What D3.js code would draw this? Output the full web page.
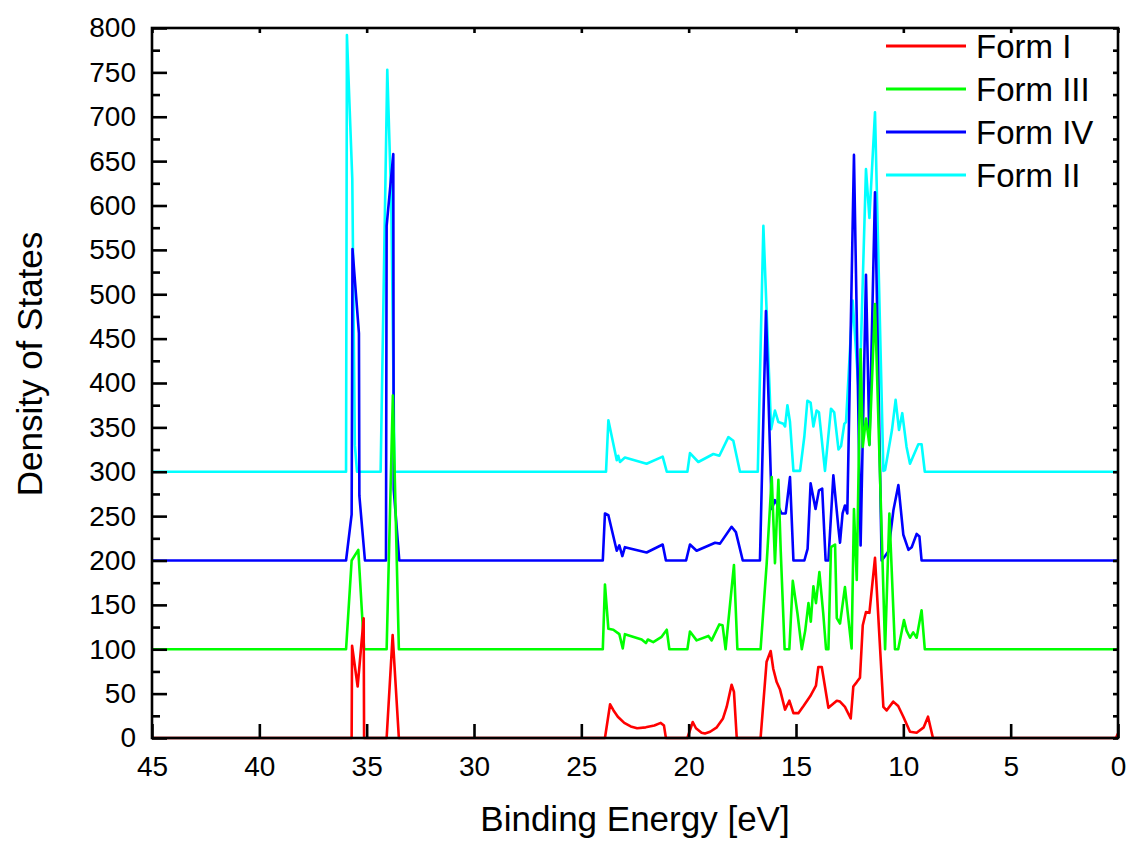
<!DOCTYPE html>
<html>
<head>
<meta charset="utf-8">
<script src="https://cdn.jsdelivr.net/npm/d3@7"></script>
<style>
  html, body { margin: 0; padding: 0; background: #fff; }
  svg { display: block; }
  text { font-family: "Liberation Sans", Arial, sans-serif; fill: #000; }
</style>
</head>
<body>
<svg id="chart" width="1134" height="844"></svg>
<script>
// ---- data (binding energy [eV], density of states as plotted) ----
const seriesNames = ["Form I", "Form III", "Form IV", "Form II"];
const seriesColors = ["#ff0000", "#00ff00", "#0000ff", "#00ffff"];

const formI = [
  [45,0],[35.70,0],[35.68,104],[35.42,58],[35.14,135],[35.12,0],
  [34.07,0],[33.79,116],[33.50,0],
  [23.90,0],[23.66,38],[23.50,31],[23.30,24],[23.00,17],[22.70,13],[22.40,11],[22.00,12],[21.60,14],[21.30,17],[21.15,14],[21.06,0],
  [20.06,0],[19.81,18],[19.66,11],[19.40,6],[19.24,5],[19.00,7],[18.69,12],[18.40,22],[18.23,35],[18.00,60],[17.89,52],[17.76,0],
  [16.65,0],[16.37,86],[16.18,98],[16.06,78],[15.90,63],[15.75,55],[15.51,32],[15.31,42],[15.12,28],
  [14.89,28],[14.65,36],[14.34,47],[14.07,59],[13.96,80],[13.80,80],[13.49,34],[13.10,42],[12.95,41],
  [12.72,35],[12.45,22],[12.33,58],[12.17,63],[12.02,68],[11.89,127],[11.74,142],[11.58,141],[11.32,203],
  [10.93,35],[10.78,31],[10.47,41],[10.24,36],[10.00,24],[9.69,7],[9.38,6],[9.05,12],[8.85,24],[8.62,0],
  [0.10,0],[0,5]
];

const formIII = [
  [45,100],[35.96,100],[35.70,200],[35.39,212],[35.12,100],
  [34.07,100],[33.78,386],[33.50,100],
  [24.00,100],[23.90,173],[23.74,123],[23.51,122],[23.23,117],[23.07,101],[22.97,117],[22.19,111],
  [21.99,107],[21.90,111],[21.65,108],[21.26,114],[21.02,122],[20.90,100],
  [20.06,100],[19.94,120],[19.63,110],[19.08,115],[18.93,110],[18.57,128],[18.42,127],[18.28,100],[17.89,195],[17.73,100],
  [16.65,100],[16.37,195],[16.13,294],[15.98,197],[15.82,291],[15.71,210],[15.53,100],[15.31,100],
  [15.15,177],[14.93,140],[14.73,100],[14.57,121],[14.42,152],[14.31,131],[14.19,171],[14.07,152],
  [13.91,187],[13.73,140],[13.60,100],[13.49,100],[13.37,215],[13.18,218],[13.10,135],[12.95,129],
  [12.72,170],[12.41,101],[12.30,258],[12.17,178],[11.99,438],[11.89,328],[11.74,360],[11.58,330],
  [11.32,489],[10.85,100],[10.65,253],[10.39,100],[10.24,100],[9.97,133],[9.85,121],[9.69,113],
  [9.54,119],[9.38,113],[9.15,144],[9.00,100],
  [0,100]
];

const formIV = [
  [45,200],[35.96,200],[35.70,252],[35.66,551],[35.36,456],[35.34,273],[35.08,200],
  [34.10,200],[34.07,577],[33.76,658],[33.74,280],[33.48,200],
  [24.00,200],[23.90,253],[23.74,251],[23.35,211],[23.23,217],[23.09,205],[22.97,215],[21.96,209],[21.21,218],[21.06,200],
  [20.12,200],[19.94,218],[19.63,211],[18.77,220],[18.54,219],[18.00,238],[17.80,232],[17.48,200],
  [16.68,200],[16.40,481],[16.13,258],[15.98,268],[15.85,262],[15.67,253],[15.48,253],[15.28,294],[15.12,200],
  [14.61,200],[14.46,213],[14.32,287],[14.09,258],[13.93,279],[13.78,281],[13.62,200],[13.49,200],
  [13.26,296],[13.03,238],[12.95,220],[12.83,253],[12.72,262],[12.61,253],[12.30,657],[11.99,217],
  [11.74,522],[11.58,331],[11.32,615],[11.01,200],[10.85,205],[10.70,210],[10.46,257],[10.23,285],
  [10.00,229],[9.76,212],[9.61,215],[9.38,230],[9.25,227],[9.15,200],
  [0,200]
];

const formII = [
  [45,300],[35.96,300],[35.92,792],[35.67,630],[35.55,330],[35.45,300],
  [34.35,300],[34.04,753],[33.85,600],[33.70,300],
  [23.85,300],[23.74,358],[23.35,313],[23.28,318],[23.20,311],[22.97,316],[21.96,309],[21.21,317],[21.02,300],
  [20.06,300],[19.94,321],[19.55,311],[18.85,320],[18.57,318],[18.15,339],[17.92,335],[17.61,300],
  [16.78,300],[16.52,577],[16.16,348],[15.98,369],[15.82,356],[15.59,354],[15.51,351],[15.40,375],
  [15.28,356],[15.12,301],[14.81,301],[14.61,340],[14.47,380],[14.32,378],[14.19,351],[14.04,369],
  [13.93,367],[13.65,301],[13.37,371],[13.22,367],[13.02,325],[12.90,329],[12.75,354],[12.67,356],
  [12.36,493],[12.05,380],[11.74,641],[11.58,586],[11.32,705],[10.93,301],[10.85,302],[10.53,347],
  [10.36,381],[10.20,347],[10.05,366],[9.85,328],[9.69,309],[9.30,331],[9.15,331],[9.00,300],
  [0,300]
];

const seriesData = [formI, formIII, formIV, formII];

const xTicks = [45, 40, 35, 30, 25, 20, 15, 10, 5, 0];
const yTicks = [0, 50, 100, 150, 200, 250, 300, 350, 400, 450, 500, 550, 600, 650, 700, 750, 800];
const yMinorTicks = [25, 75, 125, 175, 225, 275, 325, 375, 425, 475, 525, 575, 625, 675, 725, 775];

// ---- layout ----
const plotL = 152, plotR = 1118, plotT = 28, plotB = 738;
const svg = d3.select("#chart");
const x = d3.scaleLinear().domain([45, 0]).range([plotL, plotR]);
const y = d3.scaleLinear().domain([0, 800]).range([plotB, plotT]);

svg.append("defs").append("clipPath").attr("id", "plotclip")
  .append("rect").attr("x", plotL).attr("y", plotT - 2).attr("width", plotR - plotL).attr("height", plotB - plotT + 4);

// data lines: drawn bottom->top as Form II, Form IV, Form III, Form I
const line = d3.line().x(d => x(d[0])).y(d => y(d[1]));
const order = [3, 2, 1, 0];
const g = svg.append("g").attr("clip-path", "url(#plotclip)");
order.forEach(i => {
  g.append("path")
    .datum(seriesData[i])
    .attr("d", line)
    .attr("fill", "none")
    .attr("stroke", seriesColors[i])
    .attr("stroke-width", 2.6)
    .attr("stroke-linejoin", "round");
});

// axes
const fontSize = 28;
const bottomAxis = svg.append("g").attr("transform", `translate(0,${plotB})`)
  .call(d3.axisBottom(x).tickValues(xTicks).tickSize(-14).tickSizeOuter(0).tickPadding(18).tickFormat(d3.format("d")));
const topAxis = svg.append("g").attr("transform", `translate(0,${plotT})`)
  .call(d3.axisTop(x).tickValues(xTicks).tickSize(-5).tickSizeOuter(0).tickFormat(""));
const leftAxis = svg.append("g").attr("transform", `translate(${plotL},0)`)
  .call(d3.axisLeft(y).tickValues(yTicks).tickSize(-15).tickSizeOuter(0).tickPadding(16).tickFormat(d3.format("d")));
const leftMinor = svg.append("g").attr("transform", `translate(${plotL},0)`)
  .call(d3.axisLeft(y).tickValues(yMinorTicks).tickSize(-8).tickSizeOuter(0).tickFormat(""));
const rightAxis = svg.append("g").attr("transform", `translate(${plotR},0)`)
  .call(d3.axisRight(y).tickValues(yTicks.concat(yMinorTicks)).tickSize(-5).tickSizeOuter(0).tickFormat(""));

[bottomAxis, topAxis, leftAxis, leftMinor, rightAxis].forEach(a => {
  a.select(".domain").remove();
  a.selectAll(".tick line").attr("stroke", "#000").attr("stroke-width", 2.6);
  a.selectAll("text").attr("font-size", fontSize).attr("font-family", "Liberation Sans, Arial, sans-serif").attr("fill", "#000");
});

// frame
svg.append("rect")
  .attr("x", plotL).attr("y", plotT).attr("width", plotR - plotL).attr("height", plotB - plotT)
  .attr("fill", "none").attr("stroke", "#000").attr("stroke-width", 2.6);

// axis titles
svg.append("text")
  .attr("x", (plotL + plotR) / 2).attr("y", 831)
  .attr("text-anchor", "middle").attr("font-size", 35)
  .text("Binding Energy [eV]");
svg.append("text")
  .attr("transform", "translate(42,364) rotate(-90)")
  .attr("text-anchor", "middle").attr("font-size", 35)
  .text("Density of States");

// legend
const legend = svg.append("g");
seriesNames.forEach((name, i) => {
  const ly = 46 + i * 43;
  legend.append("line")
    .attr("x1", 886).attr("x2", 966).attr("y1", ly).attr("y2", ly)
    .attr("stroke", seriesColors[i]).attr("stroke-width", 3);
  legend.append("text")
    .attr("x", 976).attr("y", ly).attr("dy", "0.36em")
    .attr("font-size", 33)
    .text(name);
});
</script>
</body>
</html>
